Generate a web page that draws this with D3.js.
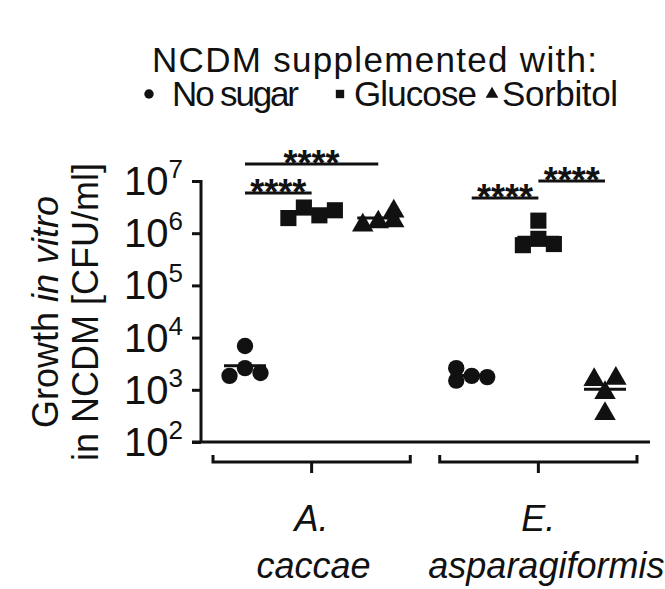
<!DOCTYPE html>
<html><head><meta charset="utf-8">
<script src="https://cdn.jsdelivr.net/npm/d3@7"></script>
<style>body{margin:0;background:#fff}text{font-family:"Liberation Sans Narrow","Arial Narrow","Liberation Sans",sans-serif;fill:#111}</style>
</head><body><svg width="665" height="589"></svg>
<script>
// data (CFU/ml)
var species = ["A. caccae", "E. asparagiformis"];
var conditions = ["No sugar", "Glucose", "Sorbitol"];
var acaccae = [
  [1850, 6900, 2600, 2100],
  [1950000, 3100000, 2200000, 2750000],
  [1550000, 1780000, 1860000, 2880000]
];
var easpar = [
  [2600, 1500, 1850, 1750],
  [1740000, 590000, 780000, 620000],
  [1700, 1800, 960, 380]
];
// horizontal jitter slot of each replicate
var slotsA = [[-1, 0, 0, 1], [-1.5, -0.5, 0.5, 1.5], [-1, 0, 1, 1]];
var slotsE = [[-1, -1, 0, 1], [0, -1, 0, 1], [-0.7, 0.7, 0, 0]];
var yTicks = [1e2, 1e3, 1e4, 1e5, 1e6, 1e7];

var svg = d3.select("svg");
var y = d3.scaleLog().domain([1e2, 1e7]).range([442, 181]);
var xg = d3.scaleBand().domain(species).range([213, 637]).paddingInner(0.13);
var xc = d3.scalePoint().domain(conditions).range([0, 1]);
function xpos(sp, c, slot) {
  var b = xg(sp), w = xg.bandwidth();
  return b + 32 + xc(c) * (w - 64) + slot * 15.5;
}

// axis
var ax = svg.append("g").attr("transform", "translate(201,0)")
  .call(d3.axisLeft(y).tickValues(yTicks).tickSize(9).tickFormat(""));
ax.select(".domain").remove();
ax.selectAll("line").attr("stroke", "#111").attr("stroke-width", 3);
svg.append("line").attr("x1", 201).attr("x2", 201).attr("y1", 180).attr("y2", 443).attr("stroke", "#111").attr("stroke-width", 3);
svg.append("line").attr("x1", 192).attr("x2", 650).attr("y1", 442).attr("y2", 442).attr("stroke", "#111").attr("stroke-width", 3);
yTicks.forEach(function (t) {
  var tx = svg.append("text").attr("x", 183).attr("y", y(t) + 14).attr("text-anchor", "end").attr("font-size", 40);
  tx.append("tspan").text("10");
  tx.append("tspan").attr("dy", -17).attr("font-size", 26).text(Math.round(Math.log10(t)));
});

// y title
var yt = svg.append("g").attr("transform", "rotate(-90)");
var l1 = yt.append("text").attr("x", -312).attr("y", 58).attr("text-anchor", "middle").attr("font-size", 36);
l1.append("tspan").text("Growth ");
l1.append("tspan").attr("font-style", "italic").text("in vitro");
yt.append("text").attr("x", -312).attr("y", 98).attr("text-anchor", "middle").attr("font-size", 36).text("in NCDM  [CFU/ml]");

// group brackets + labels
species.forEach(function (sp) {
  var a = xg(sp), b = a + xg.bandwidth(), m = (a + b) / 2;
  svg.append("path").attr("d", "M" + a + ",455V462H" + b + "V455M" + m + ",462V473")
    .attr("fill", "none").attr("stroke", "#111").attr("stroke-width", 3);
  var parts = sp.split(" ");
  svg.append("text").attr("x", m).attr("y", 531).attr("text-anchor", "middle").attr("font-size", 36).attr("font-style", "italic").text(parts[0]);
  svg.append("text").attr("x", m + (parts[1].length > 8 ? 8 : 2)).attr("y", 578).attr("text-anchor", "middle").attr("font-size", 36).attr("font-style", "italic").text(parts[1]);
});

// markers
var sym = [d3.symbolCircle, d3.symbolSquare, d3.symbolTriangle];
var sizes = [210, 260, 200];
[[species[0], acaccae, slotsA], [species[1], easpar, slotsE]].forEach(function (g) {
  conditions.forEach(function (c, ci) {
    var vals = g[1][ci];
    var gm = Math.pow(10, d3.mean(vals, function (v) { return Math.log10(v); }));
    var cx = xpos(g[0], c, 0);
    svg.append("line").attr("x1", cx - 21).attr("x2", cx + 21).attr("y1", y(gm)).attr("y2", y(gm)).attr("stroke", "#111").attr("stroke-width", 3);
    svg.selectAll(null).data(vals).enter().append("path")
      .attr("d", d3.symbol().type(sym[ci]).size(sizes[ci]))
      .attr("transform", function (v, i) { return "translate(" + xpos(g[0], c, g[2][ci][i]) + "," + (y(v) + (ci == 2 ? 2 : 0)) + ")"; })
      .attr("fill", "#111");
  });
});

// significance bars
var sig = [
  [species[0], "No sugar", "Sorbitol", 164],
  [species[0], "No sugar", "Glucose", 193],
  [species[1], "No sugar", "Glucose", 198],
  [species[1], "Glucose", "Sorbitol", 181]
];
sig.forEach(function (s) {
  var a = xpos(s[0], s[1], 0), b = xpos(s[0], s[2], 0);
  svg.append("line").attr("x1", a).attr("x2", b).attr("y1", s[3]).attr("y2", s[3]).attr("stroke", "#111").attr("stroke-width", 3);
  svg.append("text").attr("x", (a + b) / 2).attr("y", s[3] + 12).attr("text-anchor", "middle").attr("font-size", 36).attr("font-weight", "bold").text("****");
});

// legend
svg.append("text").attr("x", 152).attr("y", 72).attr("font-size", 35).attr("textLength", 445).text("NCDM supplemented with:");
var lg = [["No sugar", 142, 172, 127], ["Glucose", 333, 354, 123], ["Sorbitol", 485, 502, 116]];
lg.forEach(function (d, i) {
  svg.append("path").attr("d", d3.symbol().type(sym[i]).size(70)).attr("transform", "translate(" + (d[1] + 7) + ",94)").attr("fill", "#111");
  svg.append("text").attr("x", d[2]).attr("y", 106).attr("font-size", 35).attr("textLength", d[3]).text(d[0]);
});
</script></body></html>
